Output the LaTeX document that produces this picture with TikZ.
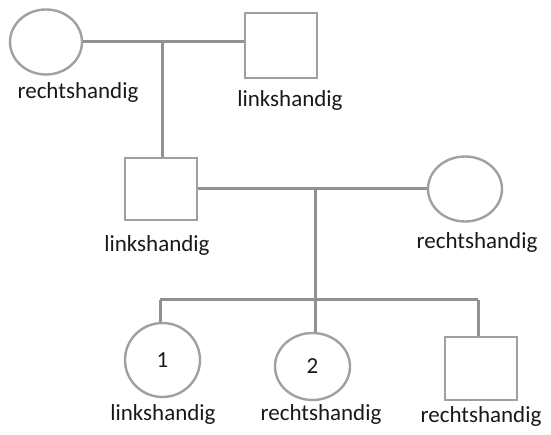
\documentclass[tikz,border=0pt]{standalone}
\usepackage{fontspec}
\setmainfont{Carlito}
\usetikzlibrary{shapes.geometric}
\definecolor{linegray}{RGB}{145,145,145}
\definecolor{shapegray}{RGB}{160,160,160}
\definecolor{txt}{RGB}{25,25,25}
\begin{document}
\begin{tikzpicture}[x=1pt,y=-1pt,
  female/.style={ellipse,draw=shapegray,line width=2.4pt,inner sep=0pt},
  male/.style={rectangle,draw=shapegray,line width=2.4pt,inner sep=0pt},
  lbl/.style={font=\fontsize{23}{27}\selectfont,text=txt,inner sep=0pt},
  link/.style={draw=linegray,line width=3pt}]
\useasboundingbox (0,0) rectangle (551,435);
% generation 1
\node[female,minimum width=72pt,minimum height=65pt] (gm) at (46,42) {};
\node[male,minimum width=72pt,minimum height=65pt] (gp) at (281,45.5) {};
\node[lbl] (lgm) at (78,92) {rechtshandig};
\node[lbl] (lgp) at (290,100) {linkshandig};
% generation 2
\node[male,minimum width=72pt,minimum height=62pt] (ms) at (161,189) {};
\node[female,minimum width=74pt,minimum height=65pt] (rw) at (465,189) {};
\node[lbl] (lms) at (157,245) {linkshandig};
\node[lbl] (lrw) at (477,242) {rechtshandig};
% generation 3
\node[female,minimum width=75pt,minimum height=74pt,font=\fontsize{23}{27}\selectfont,text=txt] (c1) at (162.5,360) {1};
\node[female,minimum width=75pt,minimum height=67pt,font=\fontsize{23}{27}\selectfont,text=txt] (c2) at (312.5,366.5) {2};
\node[male,minimum width=72pt,minimum height=63pt] (c3) at (481,368.5) {};
\node[lbl] (lc1) at (163,414) {linkshandig};
\node[lbl] (lc2) at (321,414) {rechtshandig};
\node[lbl] (lc3) at (481,416) {rechtshandig};
% connectors
\coordinate (m1) at (162,42);
\coordinate (m2) at (315,189);
\coordinate (s1) at (160,300);
\coordinate (s3) at (478,300);
\draw[link] (gm) -- (gm -| gp.west);
\draw[link] (m1) -- (m1 |- ms.north);
\draw[link] (ms) -- (ms -| rw.west);
\draw[link] (m2) -- (m2 |- c2.north);
\draw[link] (s1) -- (s3);
\draw[link] (s1) -- (s1 |- c1.north);
\draw[link] (s3) -- (s3 |- c3.north);
\end{tikzpicture}
\end{document}
